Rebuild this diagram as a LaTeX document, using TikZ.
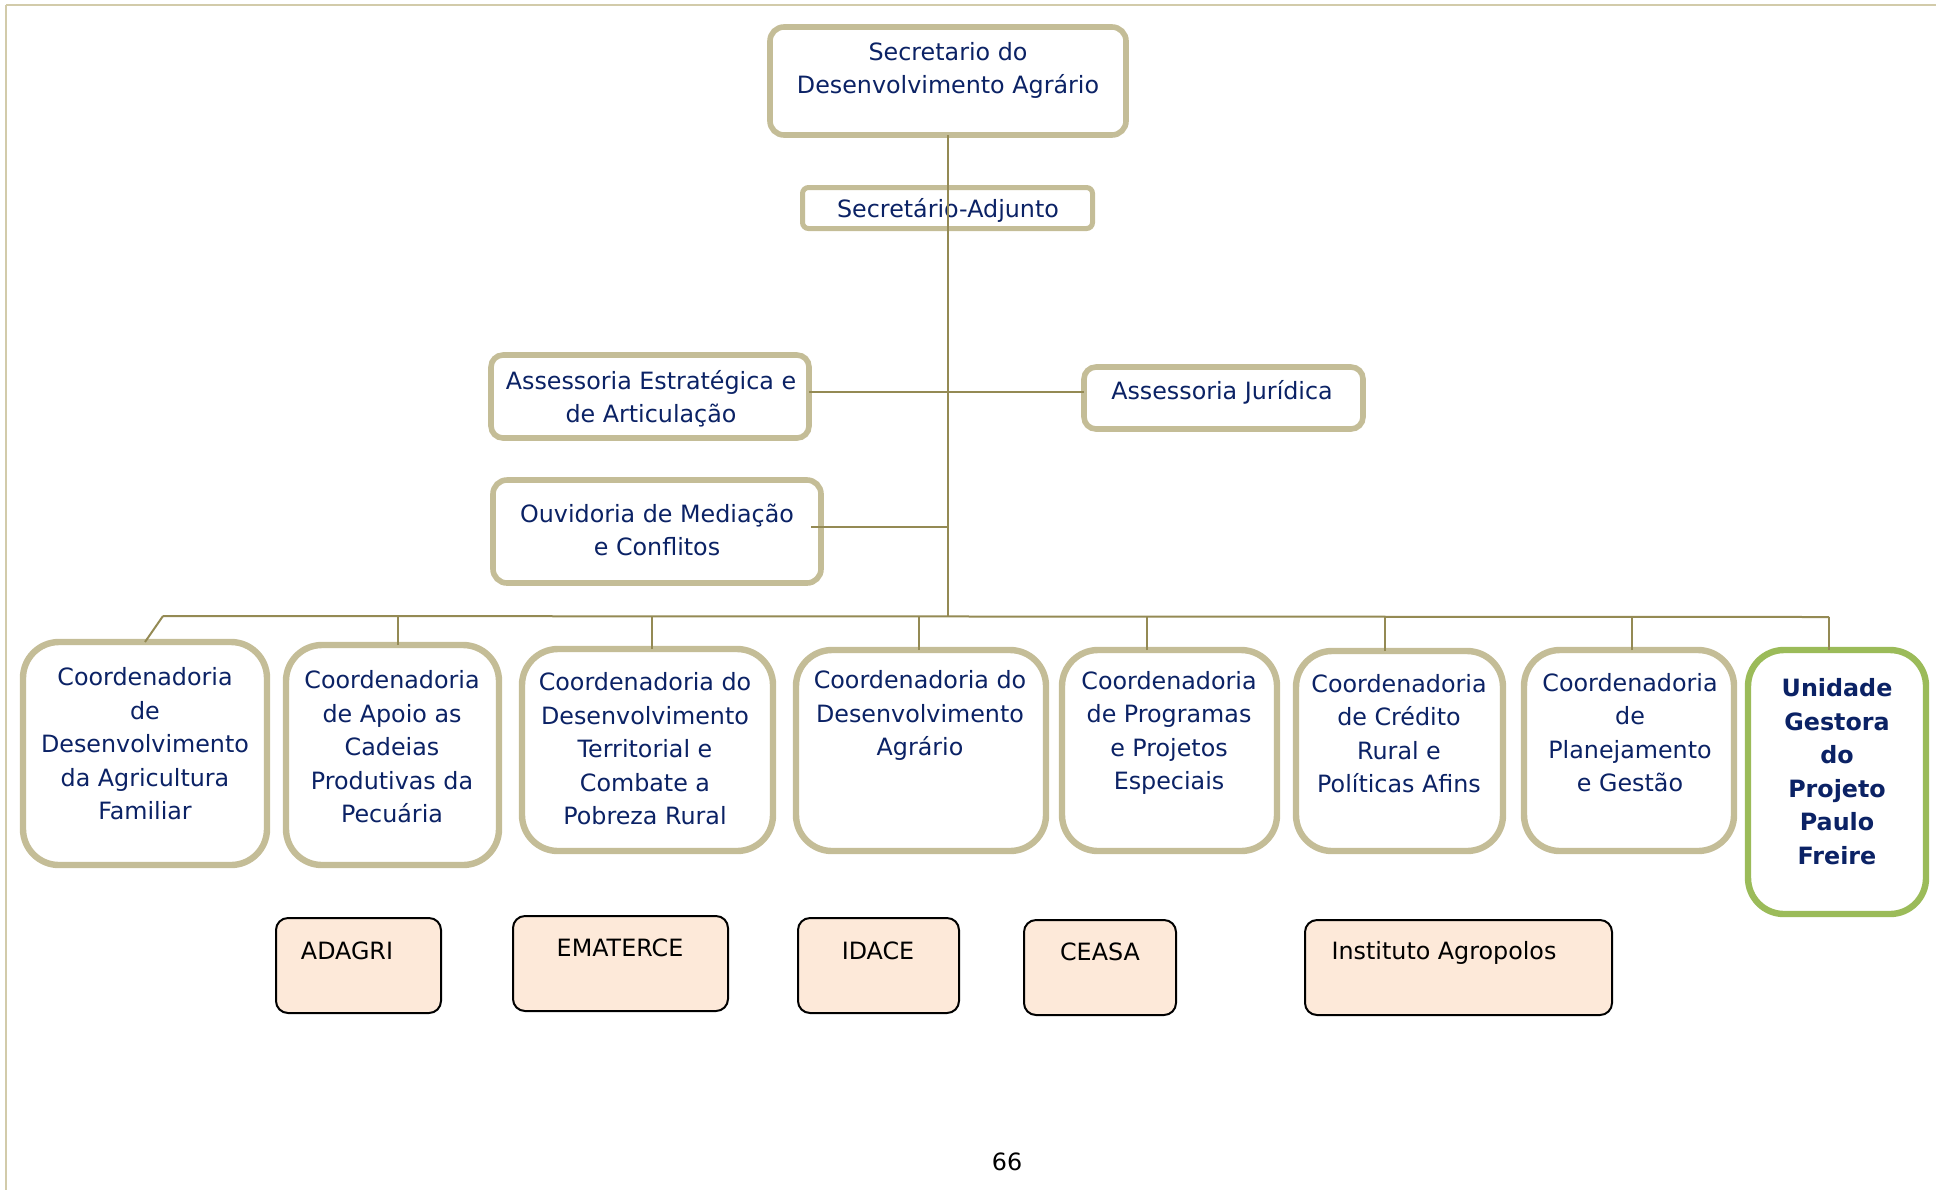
\documentclass[tikz,border=0pt]{standalone}
\usepackage{fontspec}
\setmainfont{DejaVu Sans}
\definecolor{tanb}{HTML}{C4BD97}
\definecolor{conncol}{HTML}{948A54}
\definecolor{navy}{HTML}{0B2265}
\definecolor{greenb}{HTML}{9BBB59}
\definecolor{peach}{HTML}{FDE9D9}
\definecolor{pagel}{HTML}{D2CBAA}
\tikzset{
  boxbase/.style={draw, fill=white, inner sep=0pt, outer sep=0pt, rectangle},
  topbox/.style={boxbase, draw=tanb, line width=2.8pt, rounded corners=7pt},
  rowbox/.style={boxbase, draw=tanb, line width=3.2pt, rounded corners=18pt},
  greenbox/.style={boxbase, draw=greenb, line width=3.2pt, rounded corners=18pt},
  entbox/.style={boxbase, draw=black, fill=peach, line width=1pt, rounded corners=6pt},
  txt/.style={inner sep=0pt, align=center, text=navy, yshift=-0.9pt, font=\fontsize{11.9}{16.75}\selectfont},
  btxt/.style={txt, font=\fontsize{11.9}{16.75}\selectfont\bfseries},
  ktxt/.style={inner sep=0pt, align=center, text=black, yshift=-0.5pt, font=\fontsize{11.9}{16.75}\selectfont},
  conn/.style={draw=conncol, line width=1pt},
}
\begin{document}
\begin{tikzpicture}[x=0.5pt, y=-0.5pt]
\useasboundingbox (0,0) rectangle (1936,1190);
% page frame
\coordinate (pc) at (6,5);
\coordinate (pr) at (1936,5);
\coordinate (pb) at (6,1190);
\draw[pagel, line width=1.1pt] (pc) -- (pr);
\draw[pagel, line width=0.8pt] (pc) -- (pb);

% top boxes
\node[topbox, minimum width=178pt, minimum height=54pt] (sec) at (948,81) {};
\node[txt] (tsec) at (948,68.5) {Secretario do\\Desenvolvimento Agrário};
\node[topbox, line width=2.5pt, rounded corners=3pt, minimum width=145pt, minimum height=20.5pt] (adj) at (947.5,208) {};
\node[txt] (tadj) at (948,209) {Secretário-Adjunto};
\node[topbox, rounded corners=6pt, minimum width=159pt, minimum height=41.5pt] (ae) at (650,396.5) {};
\node[txt] (tae) at (651,397) {Assessoria Estratégica e\\de Articulação};
\node[topbox, rounded corners=6pt, minimum width=139.5pt, minimum height=31pt] (aj) at (1223.5,398) {};
\node[txt] (taj) at (1222,391) {Assessoria Jurídica};
\node[topbox, rounded corners=7pt, minimum width=164pt, minimum height=51.5pt] (ouv) at (657,531.5) {};
\node[txt] (touv) at (657,528) {Ouvidoria de Mediação\\e Conflitos};

% row of coordinadorias
\node[rowbox, minimum width=122pt, minimum height=111.5pt] (b1) at (145,753.5) {};
\node[txt] (t1) at (145,742) {Coordenadoria\\de\\Desenvolvimento\\da Agricultura\\Familiar};
\node[rowbox, minimum width=106.5pt, minimum height=110pt] (b2) at (392.5,755) {};
\node[txt] (t2) at (392,745) {Coordenadoria\\de Apoio as\\Cadeias\\Produtivas da\\Pecuária};
\node[rowbox, minimum width=125.5pt, minimum height=101pt] (b3) at (647.5,750) {};
\node[txt] (t3) at (645,747) {Coordenadoria do\\Desenvolvimento\\Territorial e\\Combate a\\Pobreza Rural};
\node[rowbox, minimum width=125pt, minimum height=100.5pt] (b4) at (921,750.5) {};
\node[txt] (t4) at (920,714) {Coordenadoria do\\Desenvolvimento\\Agrário};
\node[rowbox, minimum width=107.5pt, minimum height=100.5pt] (b5) at (1169.5,750.5) {};
\node[txt] (t5) at (1169,731) {Coordenadoria\\de Programas\\e Projetos\\Especiais};
\node[rowbox, minimum width=103.5pt, minimum height=100pt] (b6) at (1399.5,751) {};
\node[txt] (t6) at (1399,732) {Coordenadoria\\de Crédito\\Rural e\\Políticas Afins};
\node[rowbox, minimum width=105pt, minimum height=100.5pt] (b7) at (1629,750.5) {};
\node[txt] (t7) at (1630,731) {Coordenadoria\\de\\Planejamento\\e Gestão};
\node[greenbox, minimum width=89pt, minimum height=132pt] (b8) at (1837,782) {};
\node[btxt] (t8) at (1837,770) {Unidade\\Gestora\\do\\Projeto\\Paulo\\Freire};

% entities
\node[entbox, minimum width=82.5pt, minimum height=47.5pt] (e1) at (358.5,965.5) {};
\node[ktxt] (te1) at (347,950) {ADAGRI};
\node[entbox, minimum width=107.5pt, minimum height=47.5pt] (e2) at (620.5,963.5) {};
\node[ktxt] (te2) at (620,947) {EMATERCE};
\node[entbox, minimum width=80.5pt, minimum height=47.5pt] (e3) at (878.5,965.5) {};
\node[ktxt] (te3) at (878,950) {IDACE};
\node[entbox, minimum width=76pt, minimum height=47.5pt] (e4) at (1100,967.5) {};
\node[ktxt] (te4) at (1100,951) {CEASA};
\node[entbox, minimum width=153.5pt, minimum height=47.5pt] (e5) at (1458.5,967.5) {};
\node[ktxt] (te5) at (1444,952) {Instituto Agropolos};

\node[ktxt] (pg) at (1007,1161) {66};

% connectors
\coordinate (bl) at (163,616);
\coordinate (br) at (1829,617);
\coordinate (jun) at (948,616);
\coordinate (ja) at (948,392);
\coordinate (jo) at (948,527);
\draw[conn] (sec.south) -- (jun);
\draw[conn] (bl) -- (br);
\draw[conn] (bl) -- (b1.north);
\draw[conn] ([xshift=2.75pt]b2.north) -- ([xshift=2.75pt]b2.north |- bl);
\draw[conn] ([xshift=2.25pt]b3.north) -- ([xshift=2.25pt]b3.north |- bl);
\draw[conn] ([xshift=-1pt]b4.north) -- ([xshift=-1pt]b4.north |- bl);
\draw[conn] ([xshift=-11.25pt]b5.north) -- ([xshift=-11.25pt]b5.north |- bl);
\draw[conn] ([xshift=-7.25pt]b6.north) -- ([xshift=-7.25pt]b6.north |- bl);
\draw[conn] ([xshift=1.5pt]b7.north) -- ([xshift=1.5pt]b7.north |- bl);
\draw[conn] ([xshift=-4pt]b8.north) -- (br);
\draw[conn] (ae.east |- ja) -- (ja) -- (aj.west |- ja);
\draw[conn] (jo) -- (jo -| ouv.east) -- ++(-5pt,0);
\end{tikzpicture}
\end{document}
